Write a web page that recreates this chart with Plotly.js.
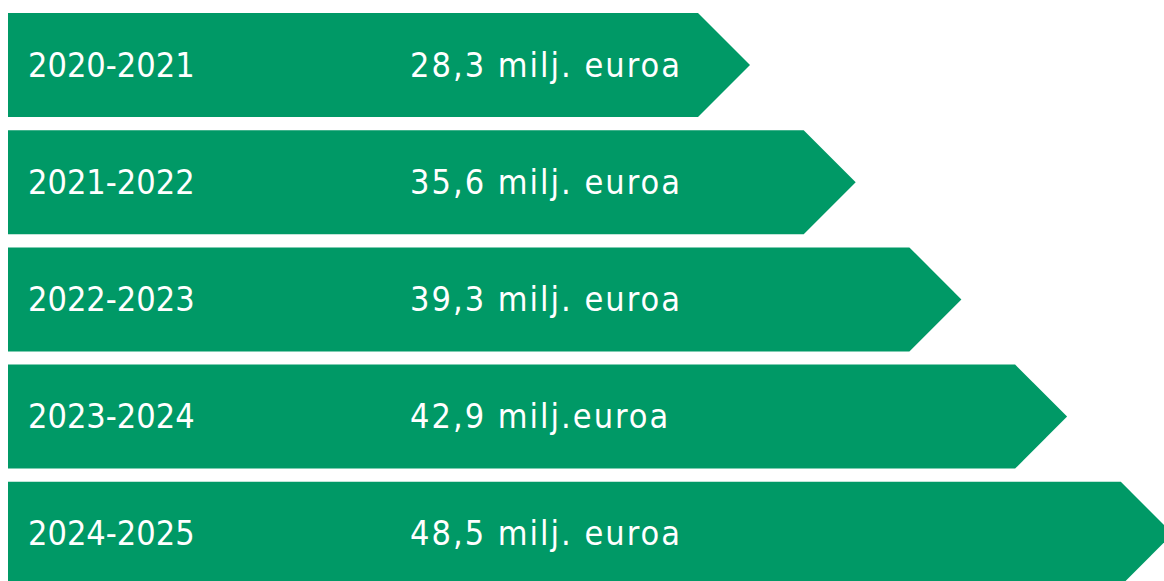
<!DOCTYPE html>
<html>
<head>
<meta charset="utf-8">
<script src="https://cdn.plot.ly/plotly-3.0.1.min.js"></script>
<style>html,body{margin:0;padding:0;background:#fff;}#chart{width:1164px;height:581px;}</style>
</head>
<body>
<div id="chart"></div>
<script>
// Data
var periods = ["2020-2021", "2021-2022", "2022-2023", "2023-2024", "2024-2025"];
var values = [28.3, 35.6, 39.3, 42.9, 48.5];
var amountLabels = ["28,3 milj. euroa", "35,6 milj. euroa", "39,3 milj. euroa", "42,9 milj.euroa", "48,5 milj. euroa"];

// Layout constants (pixel-based axis)
var W = 1164, H = 581;
var GREEN = "#009966";
var left = 8, firstTop = 13, pitch = 117.2, rowH = 104;
var baseEnd = 698, step = 105.7;
var textShift = 3;
var fontFam = "DejaVu Sans Condensed, DejaVu Sans, sans-serif";

// arrow length follows value rank
function rankOf(v) { return values.filter(function (o) { return o < v; }).length; }

var traces = [];
var mids = [];
values.forEach(function (v, i) {
  var top = firstTop + i * pitch, bot = top + rowH, mid = (top + bot) / 2;
  mids.push(mid + textShift);
  var end = baseEnd + rankOf(v) * step;
  var tip = end + rowH / 2;
  traces.push({
    type: "scatter", mode: "lines", fill: "toself", fillcolor: GREEN,
    line: {width: 0, color: GREEN}, hoverinfo: "skip", showlegend: false,
    x: [left, end, tip, end, left, left],
    y: [top, top, mid, bot, bot, top]
  });
});

traces.push({
  type: "scatter", mode: "text", showlegend: false, hoverinfo: "skip",
  x: periods.map(function () { return 28; }), y: mids,
  text: periods, textposition: "middle right",
  textfont: {family: fontFam, size: 34, color: "#ffffff"}
});
traces.push({
  type: "scatter", mode: "text", showlegend: false, hoverinfo: "skip",
  x: amountLabels.map(function () { return 410; }), y: mids,
  text: amountLabels, textposition: "middle right",
  textfont: {family: fontFam, size: 34, color: "#ffffff"}
});

var layout = {
  width: W, height: H,
  margin: {l: 0, r: 0, t: 0, b: 0, pad: 0},
  paper_bgcolor: "#ffffff", plot_bgcolor: "#ffffff",
  xaxis: {range: [0, W], visible: false, fixedrange: true},
  yaxis: {range: [H, 0], visible: false, fixedrange: true},
  showlegend: false
};
Plotly.newPlot("chart", traces, layout, {displayModeBar: false, staticPlot: true}).then(function (gd) {
  var groups = gd.querySelectorAll(".scatterlayer .trace");
  var amountGroup = groups[groups.length - 1];
  amountGroup.querySelectorAll(".textpoint text").forEach(function (t) {
    t.style.letterSpacing = "2px";
  });
});
</script>
</body>
</html>
